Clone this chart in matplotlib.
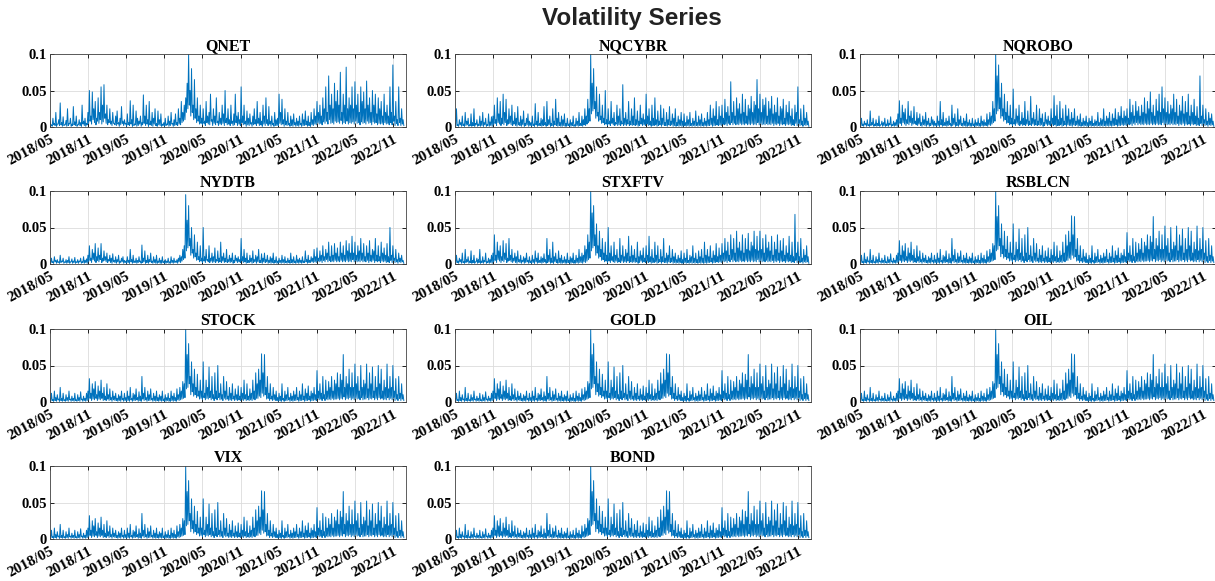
import numpy as np
import pandas as pd
import matplotlib
matplotlib.use("Agg")
import matplotlib.pyplot as plt
import matplotlib.dates as mdates

# volatility, in units of 0.001, two readings per week:
# the local high (first half-week) and the local low (second half-week).
# each line = one 6-month block starting 2018/05
qnet = [8,3,12,5,20,4,10,33,6,14,3,9,25,5,12,4,28,7,15,3,10,6,30,8,12,5,
        20,50,15,48,25,35,12,40,20,55,30,58,18,30,10,25,8,20,5,15,22,6,12,28,8,10,
        5,18,6,36,10,30,4,22,12,8,15,6,44,15,30,10,35,8,20,12,25,5,22,10,18,4,
        6,12,4,15,8,20,5,10,18,6,25,12,35,20,30,40,60,100,50,80,30,65,25,40,15,30,
        12,25,8,35,15,20,45,10,25,15,40,8,20,12,30,18,50,12,25,10,30,8,18,45,15,20,
        10,55,15,30,8,22,12,18,6,15,25,10,35,12,20,8,30,15,40,10,28,8,15,5,20,10,
        12,45,20,38,10,25,8,20,5,15,10,18,6,12,8,15,5,18,10,22,8,15,6,20,10,25,
        15,35,20,30,15,40,25,55,20,70,30,45,25,60,35,50,30,75,20,45,30,82,25,40,30,55,
        25,62,30,45,20,55,35,48,25,63,30,40,20,50,30,45,18,40,25,35,15,45,20,30,15,55,
        20,85,15,35,10,55,12,25,10]
qnet_low = [2,1,3,2,1,4,2,3,1,2,3,1,2,4,1,2,3,2,1,3,2,1,4,2,1,3,
            5,8,4,10,6,3,8,5,10,4,7,12,5,3,6,4,2,5,3,2,4,1,3,5,2,4,
            1,3,2,4,1,2,3,1,2,4,1,3,5,2,4,1,3,2,1,4,2,1,3,2,1,2,
            1,2,3,1,2,4,1,2,3,2,4,3,6,8,10,20,25,30,15,20,10,12,6,8,4,5,
            3,5,2,6,4,3,8,2,5,3,6,2,4,3,5,2,6,3,4,2,5,2,3,6,2,4,
            2,6,3,4,1,3,2,4,1,3,4,2,5,2,3,1,4,2,5,2,4,1,3,1,2,2,
            2,5,3,4,1,3,2,3,1,2,1,3,1,2,1,3,1,2,2,3,1,2,1,3,2,4,
            3,6,4,5,3,7,5,8,4,10,5,6,4,8,6,7,5,9,4,6,5,8,4,6,5,7,
            4,8,5,6,3,7,5,6,4,8,5,6,3,7,5,6,3,5,4,5,3,6,4,5,3,6,
            3,8,2,5,2,6,2,4,2]

nqcybr = [5,25,3,10,6,15,4,20,8,12,3,18,6,25,5,10,4,15,8,20,6,12,3,18,7,14,
          15,30,10,40,18,35,12,45,20,38,10,25,15,30,8,20,12,28,6,15,10,22,5,12,18,8,
          6,15,4,32,8,20,5,12,10,28,6,35,10,15,5,25,8,38,12,20,6,15,10,18,5,12,
          4,10,6,15,3,12,8,20,5,15,10,25,15,38,25,100,60,80,35,55,20,45,15,30,12,50,
          10,25,8,35,12,20,6,30,15,25,8,58,12,20,10,35,8,25,15,40,10,22,8,30,12,18,
          10,45,15,25,8,30,12,40,10,22,8,30,12,25,6,20,10,28,8,18,12,25,6,15,10,20,
          8,18,6,15,10,20,5,12,8,22,6,15,10,18,6,12,8,20,10,30,12,25,15,35,10,28,
          15,30,12,38,20,28,15,62,20,35,15,40,25,32,18,45,20,38,15,30,25,42,20,35,30,65,
          25,45,20,38,30,40,15,35,25,42,18,30,20,40,15,28,25,38,12,30,20,35,15,25,10,30,
          20,55,10,25,8,30,12,20,8]

nqrobo = [6,12,4,8,5,10,3,22,6,12,4,10,5,15,3,8,6,12,4,10,5,14,3,8,6,10,
          18,36,12,30,20,25,10,35,15,22,12,28,8,20,12,18,6,15,10,20,8,12,5,14,10,8,
          5,15,8,35,10,20,6,12,8,15,5,30,12,18,6,25,10,15,5,12,8,18,6,10,5,12,
          4,10,6,12,5,15,8,10,6,18,10,20,15,35,25,100,70,85,40,60,25,45,20,35,15,30,
          12,52,10,25,15,30,8,20,12,35,10,22,8,42,12,20,10,30,8,25,12,18,6,20,10,15,
          8,25,12,43,15,30,10,35,12,25,8,30,15,25,10,20,12,25,8,15,10,18,6,12,8,15,
          6,12,8,15,5,10,8,20,6,12,10,25,8,15,12,20,8,18,12,25,10,20,15,28,12,22,
          15,25,12,38,20,30,15,35,22,28,15,30,20,40,18,35,25,48,20,30,15,38,22,45,20,55,
          25,40,20,35,18,30,25,45,20,38,15,30,22,42,18,35,20,45,15,30,20,38,15,28,12,70,
          15,30,10,25,8,20,12,18,8]

nydtb = [4,8,3,10,5,6,3,12,4,8,3,6,5,10,3,7,4,9,3,6,4,8,3,10,5,7,
         12,25,8,20,15,28,10,22,12,28,8,18,10,15,6,12,8,14,5,10,6,12,4,8,10,5,
         4,10,5,20,6,12,4,8,5,10,4,26,8,18,5,12,6,15,4,10,6,12,4,8,5,10,
         3,6,4,8,3,10,5,8,4,6,8,12,10,20,25,95,60,80,35,50,20,40,15,30,10,25,
         8,50,10,20,6,25,8,15,10,22,6,18,8,30,10,15,8,20,6,12,8,15,5,12,8,10,
         6,35,10,20,8,15,5,12,8,18,6,12,10,20,5,14,8,15,6,12,5,10,8,15,5,10,
         4,8,5,12,6,10,4,8,5,15,6,10,4,12,6,8,5,10,4,18,6,12,5,10,8,20,
         10,22,8,18,12,25,10,20,15,30,10,25,12,28,15,22,10,30,15,25,12,32,18,28,15,38,
         15,30,12,25,18,35,15,28,10,25,15,32,12,20,18,35,12,25,10,30,15,22,12,28,10,50,
         12,25,8,20,6,15,8,12,5]

stxftv = [5,12,4,8,6,15,3,20,6,10,4,18,5,12,3,8,6,20,4,10,5,15,3,8,6,12,
          15,40,12,30,18,25,10,32,15,28,8,35,12,20,8,15,10,18,6,12,5,10,8,15,5,10,
          4,12,6,18,8,15,5,10,8,14,6,35,12,20,8,30,10,15,6,18,8,12,5,10,6,15,
          5,10,8,15,5,12,8,20,10,15,12,25,20,40,30,100,70,80,40,55,25,45,20,35,15,30,
          12,50,15,25,10,30,12,20,8,35,12,25,10,20,15,38,10,25,12,20,8,30,10,18,12,22,
          8,25,12,38,10,20,8,30,12,25,6,20,10,35,8,15,12,25,8,20,10,15,6,12,8,18,
          6,15,8,20,5,12,10,25,8,15,6,18,10,20,8,30,12,20,10,25,8,18,12,28,10,22,
          12,28,15,35,18,30,12,40,20,35,15,45,22,30,18,40,15,35,20,42,18,30,25,45,20,38,
          18,45,20,35,15,40,22,30,18,38,12,30,20,40,15,32,18,35,12,25,15,38,12,30,10,68,
          15,30,10,35,8,20,12,25,10]

# troughs of NQCYBR, NQROBO, NYDTB and STXFTV sit at about the same level
tech_low = [1,2,1,3,1,2,1,2,3,1,2,1,2,1,3,1,2,1,2,1,3,1,2,1,2,1,
            3,5,2,6,4,2,5,3,6,2,4,5,3,2,4,2,1,3,2,1,3,1,2,3,1,2,
            1,2,1,3,1,2,2,1,2,3,1,2,3,1,2,1,3,2,1,2,1,1,2,1,1,2,
            1,1,2,1,1,2,1,2,2,1,3,2,4,6,8,18,22,25,12,15,8,10,5,6,3,4,
            2,4,2,5,3,2,4,2,3,2,4,2,3,2,4,2,3,2,3,2,3,1,2,4,2,3,
            2,4,2,3,1,2,2,3,1,2,3,1,3,2,2,1,3,2,3,1,2,1,2,1,2,1,
            1,2,1,2,1,2,1,2,1,2,1,2,1,2,1,2,1,2,2,3,1,2,2,3,2,3,
            2,4,3,4,2,5,3,6,3,5,3,4,3,5,3,4,3,5,3,4,3,5,3,4,3,6,
            3,5,3,4,3,5,3,4,3,5,2,4,3,5,2,4,3,4,2,4,3,4,2,3,2,5,
            2,5,2,3,1,3,2,3,1]

# RSBLCN, STOCK, GOLD, OIL, VIX and BOND look the same in the figure
rsblcn = [5,12,3,15,6,10,4,20,5,12,3,10,6,15,4,8,5,12,3,10,6,14,4,8,5,12,
          15,32,12,25,18,28,10,22,15,30,12,20,8,25,10,18,6,15,8,12,5,10,8,15,5,12,
          6,15,8,20,5,12,10,18,6,14,8,35,12,20,6,15,10,18,5,12,8,15,6,10,8,15,
          4,10,6,12,5,15,8,12,6,18,10,20,15,28,25,100,65,80,35,55,25,45,20,38,15,30,
          15,55,12,30,20,48,15,35,10,40,15,50,12,25,10,35,15,28,8,20,12,25,8,18,10,22,
          8,20,12,30,10,25,8,18,12,30,15,40,25,45,30,66,40,65,20,35,12,25,8,20,10,15,
          6,12,8,25,5,15,10,20,6,12,8,15,10,20,6,15,10,25,8,18,12,22,8,15,12,20,
          10,43,15,25,12,35,10,30,15,28,20,35,15,30,25,40,20,38,30,65,20,35,25,45,20,40,
          20,52,25,35,15,50,20,30,25,52,18,40,25,48,15,35,20,50,25,45,15,30,20,52,18,35,
          20,50,15,32,10,35,12,25,10]
rsblcn_low = [1,2,1,2,1,3,1,2,1,2,1,2,1,3,1,2,1,2,1,2,1,3,1,2,1,2,
              3,5,2,4,3,5,2,4,3,5,2,3,2,4,2,3,1,3,2,2,1,2,1,3,1,2,
              1,2,1,3,1,2,2,3,1,2,1,4,2,3,1,2,2,3,1,2,1,2,1,2,1,2,
              1,1,2,1,1,2,1,2,1,3,2,3,4,5,6,18,20,25,10,14,8,10,6,8,4,5,
              3,6,3,5,4,6,3,5,2,5,3,6,3,4,2,5,3,4,2,3,2,4,2,3,2,3,
              2,3,2,4,2,3,2,3,2,4,3,5,5,8,6,12,8,10,4,5,2,4,2,3,2,2,
              1,2,1,3,1,2,2,3,1,2,1,2,2,3,1,2,2,3,1,2,2,3,1,2,2,3,
              2,5,3,4,2,5,2,4,3,4,3,5,3,4,4,5,3,5,4,7,3,5,4,6,3,5,
              3,6,4,5,3,6,3,4,4,6,3,5,4,6,3,5,3,6,4,5,3,4,3,6,3,5,
              3,6,2,4,2,5,2,4,2]

names = ["QNET", "NQCYBR", "NQROBO", "NYDTB", "STXFTV", "RSBLCN",
         "STOCK", "GOLD", "OIL", "VIX", "BOND"]
highs = [qnet, nqcybr, nqrobo, nydtb, stxftv, rsblcn,
         rsblcn, rsblcn, rsblcn, rsblcn, rsblcn]
lows = [qnet_low, tech_low, tech_low, tech_low, tech_low, rsblcn_low,
        rsblcn_low, rsblcn_low, rsblcn_low, rsblcn_low, rsblcn_low]

tick_dates = pd.date_range("2018-05-01", periods=10, freq="6MS")

serif = ["Liberation Serif", "DejaVu Serif"]
fig = plt.figure(figsize=(12.15, 5.81), dpi=100)
fig.text(0.52, 0.969, "Volatility Series", ha="center", va="center",
         fontsize=17.5, fontweight="bold", family="Liberation Sans", color="#222222")

lefts = [50/1215, 455/1215, 860/1215]
bottoms = [1-127/581, 1-264/581, 1-402/581, 1-539/581]
w = 356/1215
h = 73/581

for i, name in enumerate(names):
    r, c = divmod(i, 3)
    ax = fig.add_axes([lefts[c], bottoms[r], w, h])
    n = min(len(highs[i]), len(lows[i]))
    vals = np.empty(2 * n)
    vals[0::2] = highs[i][:n]
    vals[1::2] = lows[i][:n]
    dates = pd.date_range("2018-05-01", periods=2 * n, freq="84h")
    ax.plot(dates, vals / 1000, color="#0072BD", lw=0.7)
    ax.set_xlim(pd.Timestamp("2018-05-01"), pd.Timestamp("2023-01-03"))
    ax.set_ylim(0, 0.1)
    ax.set_yticks([0, 0.05, 0.1])
    ax.set_yticklabels(["0", "0.05", "0.1"])
    ax.set_xticks(tick_dates)
    ax.xaxis.set_major_formatter(mdates.DateFormatter("%Y/%m"))
    ax.grid(True, color="#dcdcdc", lw=0.6)
    ax.tick_params(direction="in", length=3, width=0.6, pad=2, top=True, right=True,
                   labelsize=10.5)
    ax.tick_params(axis="x", labelsize=11, pad=4)
    for lab in ax.get_xticklabels():
        lab.set_rotation(28)
        lab.set_ha("right")
        lab.set_rotation_mode("anchor")
    for lab in ax.get_xticklabels() + ax.get_yticklabels():
        lab.set_family(serif)
        lab.set_fontweight("bold")
    for sp in ax.spines.values():
        sp.set_linewidth(0.6)
        sp.set_color("#444444")
    ax.set_title(name, fontsize=11.5, fontweight="bold", family=serif, pad=3)

fig.savefig("out.png", dpi=100)
